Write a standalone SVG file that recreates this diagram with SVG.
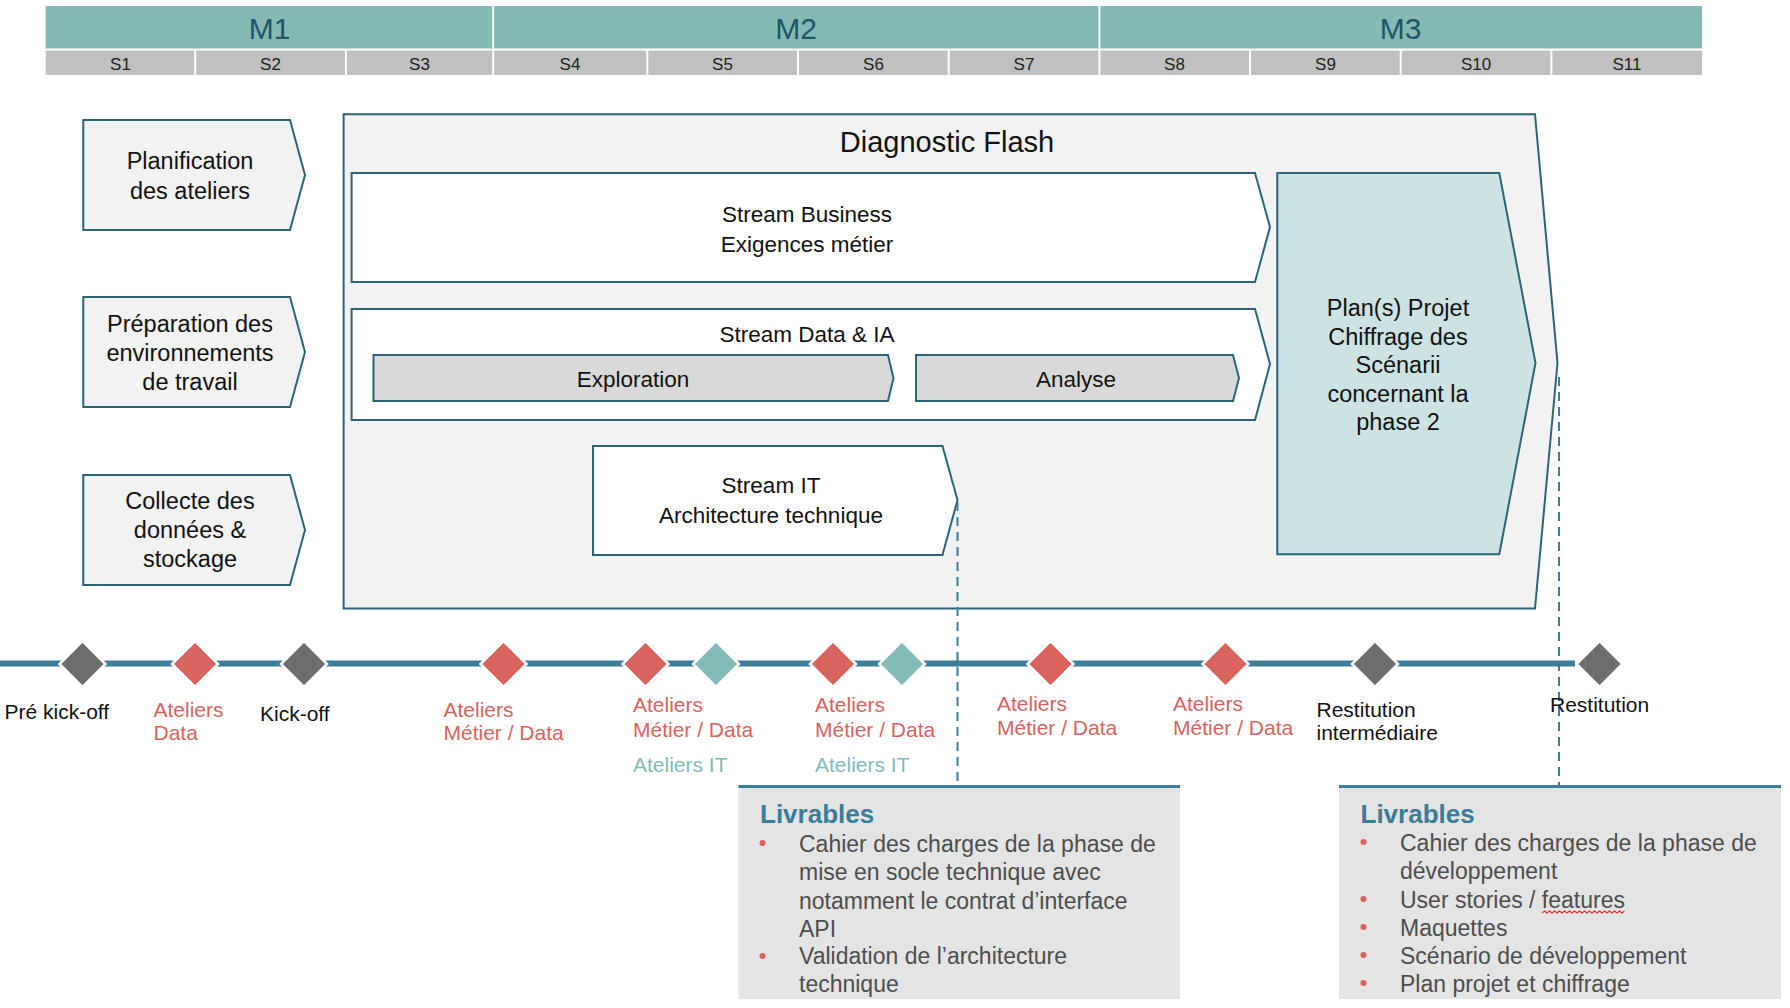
<svg xmlns="http://www.w3.org/2000/svg" width="1790" height="1008" viewBox="0 0 1790 1008">
<style>
.sans{font-family:"Liberation Sans",Arial,sans-serif}
.box{fill:#f2f2f2;stroke:#2b6377;stroke-width:2}
.wbox{fill:#ffffff;stroke:#2b6377;stroke-width:2}
.gbox{fill:#d9d9d9;stroke:#2b6377;stroke-width:2}
.tbox{fill:#cde2e3;stroke:#2b6377;stroke-width:2}
.t23{font-size:23.5px;fill:#111;text-anchor:middle}
.t22{font-size:22.5px;fill:#111;text-anchor:middle}
.lab{font-size:21px}
.red{fill:#d9635f}
.tea{fill:#84bab8}
.blk{fill:#111}
.dia{stroke:#fff;stroke-width:2.5}
.dash{stroke:#3d7d99;stroke-width:2;stroke-dasharray:9 6;fill:none}
.liv{font-size:26px;font-weight:bold;fill:#3a7d99}
.li{font-size:23px;fill:#4d4d4d}
.hm{font-size:30px;fill:#1f5566;text-anchor:middle}
.hs{font-size:17px;fill:#222;text-anchor:middle}
</style>
<defs>
<filter id="blur" x="-5%" y="-200%" width="110%" height="500%"><feGaussianBlur stdDeviation="2.5"/></filter>
</defs>
<rect width="1790" height="1008" fill="#ffffff"/>

<g id="header" class="sans">
<rect x="45.7" y="6" width="1656.4" height="43" fill="#84b9b5"/>
<rect x="45.7" y="50" width="1656.4" height="25" fill="#c0c0c0"/>
<g stroke="#ffffff" stroke-width="2">
<line x1="493.2" y1="6" x2="493.2" y2="75"/>
<line x1="1099.4" y1="6" x2="1099.4" y2="75"/>
<line x1="45.7" y1="49.5" x2="1702" y2="49.5"/>
<line x1="195.2" y1="50" x2="195.2" y2="75"/>
<line x1="345.9" y1="50" x2="345.9" y2="75"/>
<line x1="647.3" y1="50" x2="647.3" y2="75"/>
<line x1="798" y1="50" x2="798" y2="75"/>
<line x1="948.7" y1="50" x2="948.7" y2="75"/>
<line x1="1250" y1="50" x2="1250" y2="75"/>
<line x1="1400.7" y1="50" x2="1400.7" y2="75"/>
<line x1="1551.4" y1="50" x2="1551.4" y2="75"/>
</g>
<text class="hm" x="269.5" y="39">M1</text>
<text class="hm" x="796" y="39">M2</text>
<text class="hm" x="1400.7" y="39">M3</text>
<text class="hs" x="120.5" y="70">S1</text>
<text class="hs" x="270.5" y="70">S2</text>
<text class="hs" x="419.5" y="70">S3</text>
<text class="hs" x="570" y="70">S4</text>
<text class="hs" x="722.5" y="70">S5</text>
<text class="hs" x="873.5" y="70">S6</text>
<text class="hs" x="1024" y="70">S7</text>
<text class="hs" x="1174.5" y="70">S8</text>
<text class="hs" x="1325.5" y="70">S9</text>
<text class="hs" x="1476" y="70">S10</text>
<text class="hs" x="1627" y="70">S11</text>
</g>

<g id="planification" class="sans">
<polygon class="box" points="83.3,120 290,120 305,175 290,230 83.3,230"/>
<text class="t23" x="190" y="169">Planification</text>
<text class="t23" x="190" y="199">des ateliers</text>
</g>
<g id="preparation" class="sans">
<polygon class="box" points="83.3,297 290,297 305,352 290,407 83.3,407"/>
<text class="t23" x="190" y="332">Préparation des</text>
<text class="t23" x="190" y="361">environnements</text>
<text class="t23" x="190" y="390">de travail</text>
</g>
<g id="collecte" class="sans">
<polygon class="box" points="83.3,475 290,475 305,530 290,585 83.3,585"/>
<text class="t23" x="190" y="509">Collecte des</text>
<text class="t23" x="190" y="538">données &amp;</text>
<text class="t23" x="190" y="567">stockage</text>
</g>

<g id="diagnostic-flash" class="sans">
<polygon class="box" points="343.6,114.2 1535,114.2 1557.5,363 1535,608.5 343.6,608.5"/>
<text x="947" y="152" font-size="29" fill="#111" text-anchor="middle">Diagnostic Flash</text>
</g>
<g id="stream-business" class="sans">
<polygon class="wbox" points="351.6,173 1255,173 1270,227 1255,282 351.6,282"/>
<text class="t22" x="807" y="222">Stream Business</text>
<text class="t22" x="807" y="252">Exigences métier</text>
</g>
<g id="stream-data" class="sans">
<polygon class="wbox" points="351.6,309 1255,309 1270,364 1255,420 351.6,420"/>
<text class="t22" x="807" y="342">Stream Data &amp; IA</text>
</g>
<g id="exploration" class="sans">
<polygon class="gbox" points="373.5,355 888,355 893.5,378 888,401 373.5,401"/>
<text class="t22" x="633" y="387">Exploration</text>
</g>
<g id="analyse" class="sans">
<polygon class="gbox" points="916,355 1233,355 1239,378 1233,401 916,401"/>
<text class="t22" x="1076" y="387">Analyse</text>
</g>
<g id="stream-it" class="sans">
<polygon class="wbox" points="593,446 942.5,446 957.5,500 942.5,555 593,555"/>
<text class="t22" x="771" y="493">Stream IT</text>
<text class="t22" x="771" y="523">Architecture technique</text>
</g>
<g id="plan-projet" class="sans">
<polygon class="tbox" points="1277.3,173 1499.3,173 1535.5,363 1499.3,554.3 1277.3,554.3"/>
<text class="t23" x="1398" y="316">Plan(s) Projet</text>
<text class="t23" x="1398" y="344.5">Chiffrage des</text>
<text class="t23" x="1398" y="373">Scénarii</text>
<text class="t23" x="1398" y="401.5">concernant la</text>
<text class="t23" x="1398" y="430">phase 2</text>
</g>

<g id="connectors">
<line x1="0" y1="670" x2="1575" y2="670" stroke="#9a9a9a" stroke-width="6" filter="url(#blur)" opacity="0.7"/>
<line x1="0" y1="663.5" x2="1575" y2="663.5" stroke="#3d7d99" stroke-width="6"/>
<line class="dash" x1="957.5" y1="502" x2="957.5" y2="786"/>
<line class="dash" x1="1559" y1="377" x2="1559" y2="786"/>
</g>

<g id="milestones">
<polygon class="dia" fill="#6d6d6d" points="82.5,641 105.5,664 82.5,687 59.5,664"/>
<polygon class="dia" fill="#d9635f" points="195,641 218,664 195,687 172,664"/>
<polygon class="dia" fill="#6d6d6d" points="304,641 327,664 304,687 281,664"/>
<polygon class="dia" fill="#d9635f" points="503.5,641 526.5,664 503.5,687 480.5,664"/>
<polygon class="dia" fill="#d9635f" points="645.5,641 668.5,664 645.5,687 622.5,664"/>
<polygon class="dia" fill="#84bab8" points="716,641 739,664 716,687 693,664"/>
<polygon class="dia" fill="#d9635f" points="833,641 856,664 833,687 810,664"/>
<polygon class="dia" fill="#84bab8" points="902,641 925,664 902,687 879,664"/>
<polygon class="dia" fill="#d9635f" points="1050.5,641 1073.5,664 1050.5,687 1027.5,664"/>
<polygon class="dia" fill="#d9635f" points="1225.5,641 1248.5,664 1225.5,687 1202.5,664"/>
<polygon class="dia" fill="#6d6d6d" points="1375,641 1398,664 1375,687 1352,664"/>
<polygon class="dia" fill="#6d6d6d" points="1599.5,641 1622.5,664 1599.5,687 1576.5,664"/>
</g>

<g id="milestone-labels" class="sans lab">
<text class="blk" x="4.5" y="719">Pré kick-off</text>
<text class="red" x="153.5" y="716.5">Ateliers</text>
<text class="red" x="153.5" y="740">Data</text>
<text class="blk" x="260" y="721">Kick-off</text>
<text class="red" x="443.5" y="716.5">Ateliers</text>
<text class="red" x="443.5" y="740">Métier / Data</text>
<text class="red" x="633" y="712">Ateliers</text>
<text class="red" x="633" y="736.5">Métier / Data</text>
<text class="tea" x="633" y="771.5">Ateliers IT</text>
<text class="red" x="815" y="712">Ateliers</text>
<text class="red" x="815" y="736.5">Métier / Data</text>
<text class="tea" x="815" y="771.5">Ateliers IT</text>
<text class="red" x="997" y="711">Ateliers</text>
<text class="red" x="997" y="735">Métier / Data</text>
<text class="red" x="1173" y="711">Ateliers</text>
<text class="red" x="1173" y="735">Métier / Data</text>
<text class="blk" x="1316.5" y="716.5">Restitution</text>
<text class="blk" x="1316.5" y="740">intermédiaire</text>
<text class="blk" x="1550" y="711.5">Restitution</text>
</g>

<g id="livrables-1" class="sans">
<rect x="738.5" y="786" width="441.5" height="213" fill="#e4e4e4"/>
<line x1="738.5" y1="786.5" x2="1180" y2="786.5" stroke="#3d7d99" stroke-width="3"/>
<text class="liv" x="760" y="823">Livrables</text>
<circle cx="762.5" cy="843" r="3" fill="#d9635f"/>
<circle cx="762.5" cy="956" r="3" fill="#d9635f"/>
<text class="li" x="799" y="851.5">Cahier des charges de la phase de</text>
<text class="li" x="799" y="880">mise en socle technique avec</text>
<text class="li" x="799" y="908.5">notamment le contrat d’interface</text>
<text class="li" x="799" y="936.5">API</text>
<text class="li" x="799" y="964">Validation de l’architecture</text>
<text class="li" x="799" y="992">technique</text>
</g>

<g id="livrables-2" class="sans">
<rect x="1339" y="786" width="442" height="213" fill="#e4e4e4"/>
<line x1="1339" y1="786.5" x2="1781" y2="786.5" stroke="#3d7d99" stroke-width="3"/>
<text class="liv" x="1360.5" y="822.5">Livrables</text>
<circle cx="1363.5" cy="842" r="3" fill="#d9635f"/>
<circle cx="1363.5" cy="899" r="3" fill="#d9635f"/>
<circle cx="1363.5" cy="927" r="3" fill="#d9635f"/>
<circle cx="1363.5" cy="955" r="3" fill="#d9635f"/>
<circle cx="1363.5" cy="983" r="3" fill="#d9635f"/>
<text class="li" x="1400" y="851">Cahier des charges de la phase de</text>
<text class="li" x="1400" y="878.5">développement</text>
<text class="li" x="1400" y="907.5">User stories / features</text>
<text class="li" x="1400" y="935.5">Maquettes</text>
<text class="li" x="1400" y="963.5">Scénario de développement</text>
<text class="li" x="1400" y="991.5">Plan projet et chiffrage</text>
<path d="M1542,913 l2.5,-2 l2.5,2 l2.5,-2 l2.5,2 l2.5,-2 l2.5,2 l2.5,-2 l2.5,2 l2.5,-2 l2.5,2 l2.5,-2 l2.5,2 l2.5,-2 l2.5,2 l2.5,-2 l2.5,2 l2.5,-2 l2.5,2 l2.5,-2 l2.5,2 l2.5,-2 l2.5,2 l2.5,-2 l2.5,2 l2.5,-2 l2.5,2 l2.5,-2 l2.5,2 l2.5,-2 l2.5,2 l2.5,-2 l2.5,2 l2.5,-2" fill="none" stroke="#e03030" stroke-width="1.2"/>
</g>
</svg>
